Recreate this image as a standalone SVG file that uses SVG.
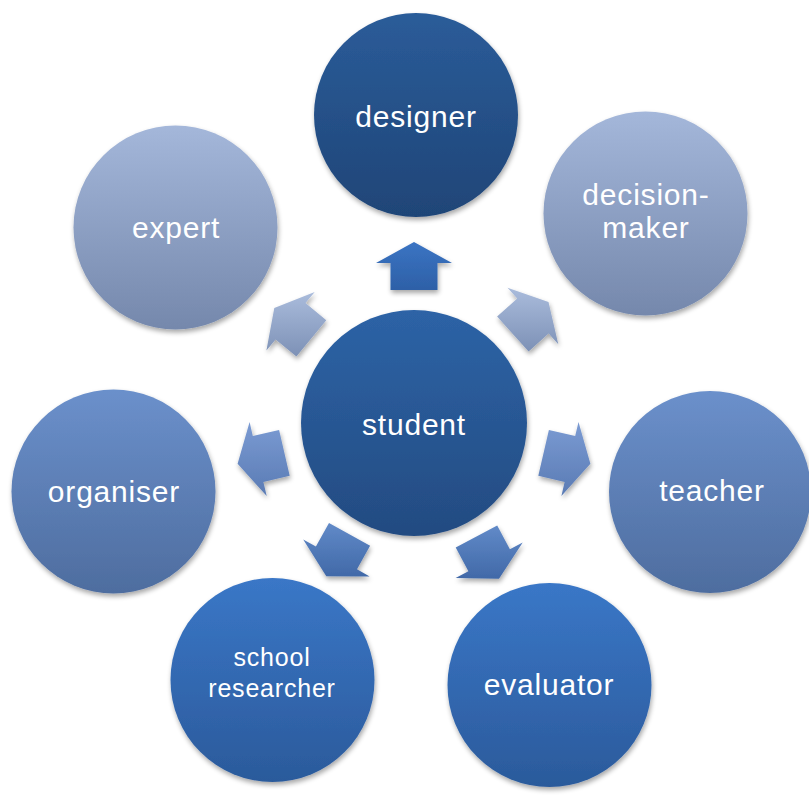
<svg xmlns="http://www.w3.org/2000/svg" width="809" height="801" viewBox="0 0 809 801">
  <defs>
    <linearGradient id="gDark" x1="0" y1="0" x2="0" y2="1">
      <stop offset="0" stop-color="#2b5c99"/>
      <stop offset="1" stop-color="#1f4577"/>
    </linearGradient>
    <linearGradient id="gCenter" x1="0" y1="0" x2="0" y2="1">
      <stop offset="0" stop-color="#2d63a6"/>
      <stop offset="1" stop-color="#234b81"/>
    </linearGradient>
    <linearGradient id="gLight" x1="0" y1="0" x2="0" y2="1">
      <stop offset="0" stop-color="#a4b7da"/>
      <stop offset="1" stop-color="#7588ac"/>
    </linearGradient>
    <linearGradient id="gMid" x1="0" y1="0" x2="0" y2="1">
      <stop offset="0" stop-color="#6b90cb"/>
      <stop offset="1" stop-color="#4e6d9f"/>
    </linearGradient>
    <linearGradient id="gBright" x1="0" y1="0" x2="0" y2="1">
      <stop offset="0" stop-color="#3a77c7"/>
      <stop offset="1" stop-color="#2b5a9b"/>
    </linearGradient>
    <linearGradient id="aBlue" x1="0" y1="0" x2="0" y2="1">
      <stop offset="0" stop-color="#3b74c3"/>
      <stop offset="1" stop-color="#2d60a7"/>
    </linearGradient>
    <linearGradient id="aLight" x1="0" y1="0" x2="0" y2="1">
      <stop offset="0" stop-color="#aabcdc"/>
      <stop offset="1" stop-color="#7d91b6"/>
    </linearGradient>
    <linearGradient id="aMid" x1="0" y1="0" x2="0" y2="1">
      <stop offset="0" stop-color="#7b9bd3"/>
      <stop offset="1" stop-color="#5a7bb4"/>
    </linearGradient>
    <linearGradient id="aBright" x1="0" y1="0" x2="0" y2="1">
      <stop offset="0" stop-color="#618ac8"/>
      <stop offset="1" stop-color="#4169a8"/>
    </linearGradient>
    <filter id="shadow" x="-20%" y="-20%" width="140%" height="140%">
      <feGaussianBlur in="SourceAlpha" stdDeviation="2.5"/>
      <feOffset dx="1" dy="3" result="b"/>
      <feComponentTransfer><feFuncA type="linear" slope="0.35"/></feComponentTransfer>
      <feMerge><feMergeNode/><feMergeNode in="SourceGraphic"/></feMerge>
    </filter>
  </defs>
  <style>
    .lbl { font-family: "Liberation Sans", Arial, sans-serif; font-size: 30px; fill: #ffffff; text-anchor: middle; letter-spacing: 0.8px; }
    .sm { font-size: 25px; }
    circle, polygon { filter: url(#shadow); }
  </style>
  <rect width="809" height="801" fill="#ffffff"/>

  <!-- outward arrows from the centre -->
  <g id="connectors">
    <polygon fill="url(#aBlue)" points="414,242 452,263 437.5,263 437.5,290 390.5,290 390.5,263 376,263"/>
    <polygon fill="url(#aLight)" points="548.5,301.9 558.3,344.2 548.6,333.4 528.6,351.5 497.1,316.6 517.2,298.5 507.5,287.7"/>
    <polygon fill="url(#aMid)" points="590.4,463.7 561.4,496 564.6,481.9 538.3,475.8 548.9,430 575.2,436.1 578.5,422"/>
    <polygon fill="url(#aBright)" points="499,578.8 455.6,578.1 468.4,571.3 455.7,547.5 497.2,525.4 509.9,549.2 522.7,542.4"/>
    <polygon fill="url(#aBright)" points="326.3,576.3 303.2,539.5 315.9,546.6 329,522.9 370.1,545.7 357,569.3 369.7,576.4"/>
    <polygon fill="url(#aMid)" points="237.6,463.7 249.6,422 252.8,436.1 279.1,430 289.7,475.8 263.4,481.9 266.7,496"/>
    <polygon fill="url(#aLight)" points="274.3,307.9 314.7,291.9 305.5,303.1 326.3,320.3 296.4,356.5 275.6,339.4 266.4,350.6"/>
  </g>

  <g id="student">
    <circle cx="414" cy="423" r="113" fill="url(#gCenter)"/>
    <text class="lbl" x="414" y="435">student</text>
  </g>
  <g id="designer">
    <circle cx="416" cy="115" r="102" fill="url(#gDark)"/>
    <text class="lbl" x="416" y="127">designer</text>
  </g>
  <g id="decision-maker">
    <circle cx="645.5" cy="213.5" r="102" fill="url(#gLight)"/>
    <text class="lbl" x="646" y="205">decision-</text>
    <text class="lbl" x="646" y="238">maker</text>
  </g>
  <g id="teacher">
    <circle cx="710" cy="492" r="101" fill="url(#gMid)"/>
    <text class="lbl" x="712" y="501">teacher</text>
  </g>
  <g id="evaluator">
    <circle cx="549.5" cy="685" r="102" fill="url(#gBright)"/>
    <text class="lbl" x="549" y="695">evaluator</text>
  </g>
  <g id="school-researcher">
    <circle cx="272.5" cy="680" r="102" fill="url(#gBright)"/>
    <text class="lbl sm" x="272" y="666">school</text>
    <text class="lbl sm" x="272" y="697">researcher</text>
  </g>
  <g id="organiser">
    <circle cx="113.5" cy="491.5" r="102" fill="url(#gMid)"/>
    <text class="lbl" x="114" y="502">organiser</text>
  </g>
  <g id="expert">
    <circle cx="175.5" cy="227.5" r="102" fill="url(#gLight)"/>
    <text class="lbl" x="176" y="238">expert</text>
  </g>
</svg>
